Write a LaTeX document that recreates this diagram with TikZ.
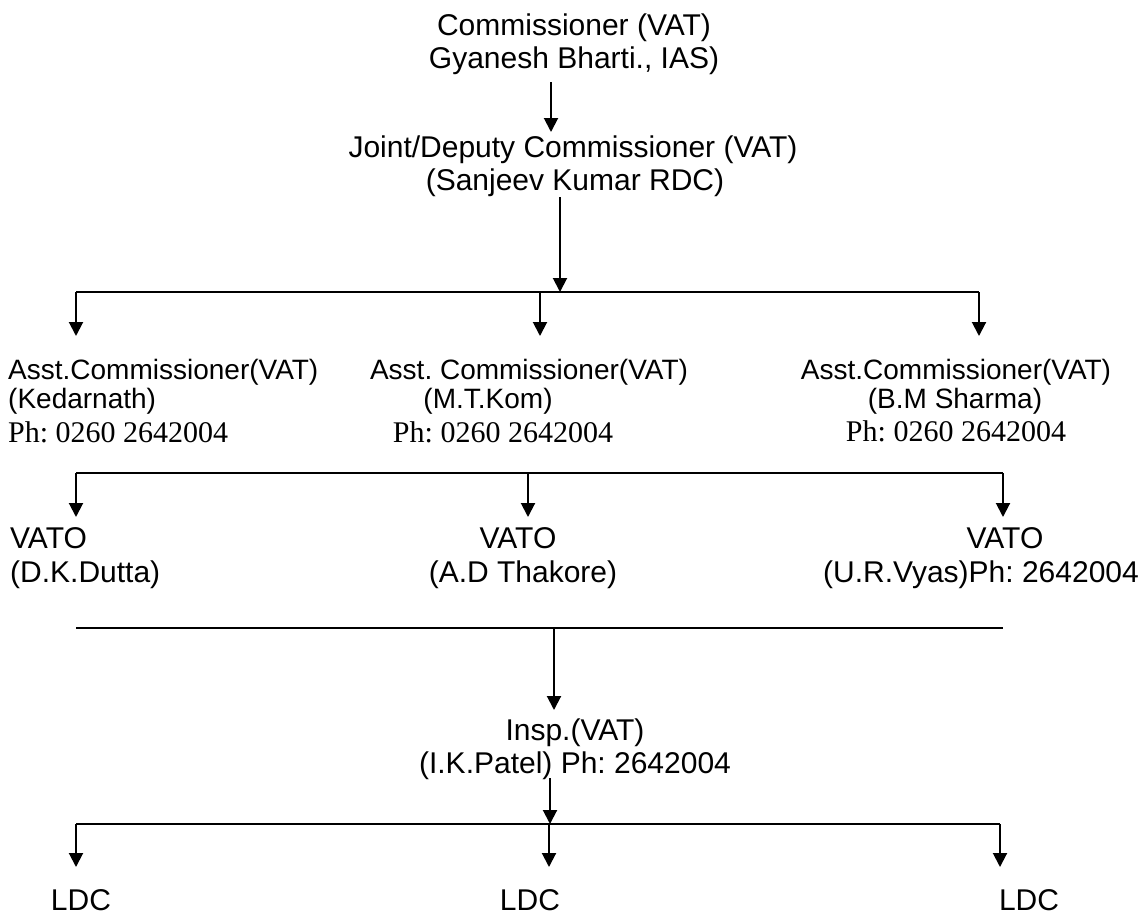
\documentclass[tikz,border=0pt]{standalone}
\usepackage{fontspec}
\setmainfont{Liberation Sans}
\newfontfamily\timesf{Liberation Serif}
\usetikzlibrary{arrows.meta}
\frenchspacing
\begin{document}
\begin{tikzpicture}[x=1pt,y=-1pt,
  lbl/.style={inner sep=0pt, anchor=base, font=\frenchspacing\fontsize{30}{36}\selectfont},
  albl/.style={inner sep=0pt, anchor=base, font=\frenchspacing\fontsize{28}{34}\selectfont},
  ph/.style={inner sep=0pt, anchor=base, font=\frenchspacing\timesf\fontsize{30}{34}\selectfont},
  conn/.style={line width=2pt},
  arr/.style={conn, -{Triangle[width=14pt,length=14pt]}}]
\useasboundingbox (0,0) rectangle (1146,916);

% Commissioner
\node[lbl] (c1) at (574,35) {Commissioner (VAT)};
\node[lbl] (c2) at (574,68) {Gyanesh Bharti., IAS)};
% Joint/Deputy
\node[lbl] (j1) at (573,157) {Joint/Deputy Commissioner (VAT)};
\node[lbl] (j2) at (575,190) {(Sanjeev Kumar RDC)};

% Asst. Commissioners
\node[albl, anchor=base west] (a1) at (8,379) {Asst.Commissioner(VAT)};
\node[albl, anchor=base west] (a1n) at (8,408) {(Kedarnath)};
\node[ph, anchor=base west] (a1p) at (8,442) {Ph: 0260 2642004};
\node[albl] (a2) at (529,379) {Asst. Commissioner(VAT)};
\node[albl] (a2n) at (488,408) {(M.T.Kom)};
\node[ph] (a2p) at (503,442) {Ph: 0260 2642004};
\node[albl] (a3) at (956,379) {Asst.Commissioner(VAT)};
\node[albl] (a3n) at (955,408) {(B.M Sharma)};
\node[ph] (a3p) at (956,441) {Ph: 0260 2642004};

% VATO
\node[lbl, anchor=base west] (v1) at (10,548) {VATO};
\node[lbl, anchor=base west] (v1n) at (10,582) {(D.K.Dutta)};
\node[lbl] (v2) at (518,548) {VATO};
\node[lbl] (v2n) at (523,582) {(A.D Thakore)};
\node[lbl] (v3) at (1005,548) {VATO};
\node[lbl] (v3n) at (981,582) {(U.R.Vyas)Ph: 2642004};

% Inspector
\node[lbl] (i1) at (575,740) {Insp.(VAT)};
\node[lbl] (i2) at (575,773) {(I.K.Patel) Ph: 2642004};

% LDC
\node[lbl] (l1) at (81,910) {LDC};
\node[lbl] (l2) at (530,910) {LDC};
\node[lbl] (l3) at (1029,910) {LDC};

% connector coordinates
\coordinate (p1s) at (551,82);   \coordinate (p1e) at (551,132);
\coordinate (p2s) at (560,197);  \coordinate (p2e) at (560,292);
\coordinate (b1l) at (76,292);   \coordinate (b1m) at (540,292);  \coordinate (b1r) at (979,292);
\coordinate (t1l) at (76,336);   \coordinate (t1m) at (540,336);  \coordinate (t1r) at (979,336);
\coordinate (b2l) at (76,473);   \coordinate (b2m) at (528,473);  \coordinate (b2r) at (1003,473);
\coordinate (t2l) at (76,517);   \coordinate (t2m) at (528,517);  \coordinate (t2r) at (1003,517);
\coordinate (b3l) at (76,628);   \coordinate (b3m) at (554,628);  \coordinate (b3r) at (1003,628);
\coordinate (t3m) at (554,710);
\coordinate (p4s) at (550,778);
\coordinate (b4l) at (76,824);   \coordinate (b4m) at (549,824);  \coordinate (b4r) at (1000,824);
\coordinate (t4l) at (76,867);   \coordinate (t4m) at (549,867);  \coordinate (t4r) at (1000,867);

\draw[arr] (p1s) -- (p1e);
\draw[arr] (p2s) -- (p2e);
\draw[conn] (b1l) -- (b1r);
\draw[arr] (b1l) -- (t1l);
\draw[arr] (b1m) -- (t1m);
\draw[arr] (b1r) -- (t1r);

\draw[conn] (b2l) -- (b2r);
\draw[arr] (b2l) -- (t2l);
\draw[arr] (b2m) -- (t2m);
\draw[arr] (b2r) -- (t2r);

\draw[conn] (b3l) -- (b3r);
\draw[arr] (b3m) -- (t3m);

\draw[arr] (p4s) -- (p4s |- b4m);
\draw[conn] (b4l) -- (b4r);
\draw[arr] (b4l) -- (t4l);
\draw[arr] (b4m) -- (t4m);
\draw[arr] (b4r) -- (t4r);
\end{tikzpicture}
\end{document}
